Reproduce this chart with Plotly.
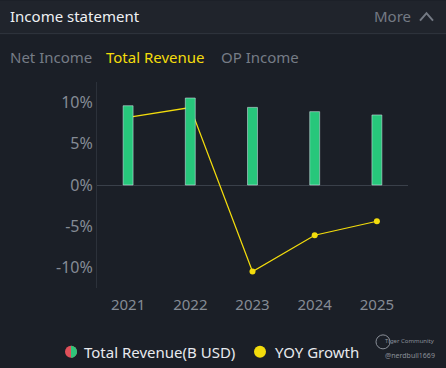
import math
import plotly.graph_objects as go

years = ["2021", "2022", "2023", "2024", "2025"]
revenue_busd = [9.62, 10.56, 9.42, 8.90, 8.50]
yoy_growth = [8.2, 9.4, -10.5, -6.1, -4.4]
y_tick_vals = [-10, -5, 0, 5, 10]
y_tick_text = ["-10%", "-5%", "0%", "5%", "10%"]

BG = "#1b1f27"
HEADER = "#20242c"
GREEN = "#27c77b"
YELLOW = "#f3dc0c"
GREY = "#858b95"
FONT = "Noto Sans"

W, H = 446, 368
L, R, T, B = 97, 408, 81.5, 288

fig = go.Figure()
fig.add_trace(go.Bar(x=years, y=revenue_busd, marker_color=GREEN, width=0.16,
                     yaxis="y2", name="Total Revenue(B USD)", showlegend=False))
fig.add_trace(go.Scatter(x=years, y=yoy_growth, mode="lines+markers",
                         line=dict(color=YELLOW, width=1.2),
                         marker=dict(color=YELLOW, size=6),
                         name="YOY Growth", showlegend=False))

rng = [-12.5, 12.5]
fig.update_layout(
    width=W, height=H,
    paper_bgcolor=BG, plot_bgcolor=BG,
    margin=dict(l=L, r=W - R, t=T, b=H - B),
    font=dict(family=FONT, color=GREY),
    xaxis=dict(showgrid=False, zeroline=False, showline=False,
               tickfont=dict(size=15, color=GREY), ticks="", ticklen=0,
               ticklabelstandoff=6),
    yaxis=dict(range=rng, tickvals=y_tick_vals, ticktext=y_tick_text,
               showgrid=False, zeroline=True, zerolinecolor="#3a404a", zerolinewidth=1,
               showline=True, linecolor="#2c313a", linewidth=1,
               tickfont=dict(size=16, color=GREY), ticks="", ticklen=0),
    yaxis2=dict(range=rng, overlaying="y", visible=False),
    showlegend=False,
    shapes=[
        dict(type="rect", xref="paper", yref="paper", x0=-L / (R - L), x1=(W - L) / (R - L),
             y0=1 + (T - 33) / (B - T), y1=1 + T / (B - T),
             fillcolor=HEADER, line_width=0, layer="below"),
        dict(type="line", xref="paper", yref="paper", x0=-L / (R - L), x1=(W - L) / (R - L),
             y0=1 + (T - 33) / (B - T), y1=1 + (T - 33) / (B - T),
             line=dict(color="#30353e", width=1)),
    ],
)

def px(xp):
    return (xp - L) / (R - L)

def py(yp):
    return (B - yp) / (B - T)

ann = []
ann.append(dict(text="Income statement", x=px(8), y=py(15), xanchor="left", yanchor="middle",
                font=dict(size=15, color="#eef0f3")))
ann.append(dict(text="More", x=px(413), y=py(15), xanchor="right", yanchor="middle",
                font=dict(size=15, color="#747a84")))
ann.append(dict(text="Net Income", x=px(8), y=py(56), xanchor="left", yanchor="middle",
                font=dict(size=15, color="#767c86")))
ann.append(dict(text="Total Revenue", x=px(104), y=py(56), xanchor="left", yanchor="middle",
                font=dict(size=15, color=YELLOW)))
ann.append(dict(text="OP Income", x=px(219), y=py(56), xanchor="left", yanchor="middle",
                font=dict(size=15, color="#767c86")))
ann.append(dict(text="Total Revenue(B USD)", x=px(82), y=py(352), xanchor="left", yanchor="middle",
                font=dict(size=15, color="#e8eaee")))
ann.append(dict(text="YOY Growth", x=px(273), y=py(352), xanchor="left", yanchor="middle",
                font=dict(size=15, color="#e8eaee")))
ann.append(dict(text="Tiger Community", x=px(437), y=py(341), xanchor="right", yanchor="middle",
                font=dict(size=6, color="#8a8f98")))
ann.append(dict(text="@nerdbull1669", x=px(437), y=py(356), xanchor="right", yanchor="middle",
                font=dict(size=7, color="#8a8f98")))
for a in ann:
    a.update(xref="paper", yref="paper", showarrow=False)
fig.update_layout(annotations=ann)

# "More" chevron
fig.add_shape(type="path", xref="paper", yref="paper",
              path="M {} {} L {} {} L {} {}".format(px(420), py(20), px(426.5), py(12.5), px(433), py(20)),
              line=dict(color="#747a84", width=2))

# legend dots
r = 6
cx, cy = 71, 352
fig.add_shape(type="circle", xref="paper", yref="paper",
              x0=px(cx - r), x1=px(cx + r), y0=py(cy + r), y1=py(cy - r),
              fillcolor="#e0505a", line_width=0)
fig.add_shape(type="path", xref="paper", yref="paper",
              path=" ".join(
                  ["M {} {}".format(px(cx), py(cy - r))] +
                  ["L {} {}".format(px(cx + r * math.sin(t * math.pi / 12)),
                                    py(cy - r * math.cos(t * math.pi / 12))) for t in range(1, 13)] +
                  ["Z"]),
              fillcolor="#2fc57a", line_width=0)
cx2 = 260
fig.add_shape(type="circle", xref="paper", yref="paper",
              x0=px(cx2 - r), x1=px(cx2 + r), y0=py(cy + r), y1=py(cy - r),
              fillcolor=YELLOW, line_width=0)
fig.add_shape(type="circle", xref="paper", yref="paper",
              x0=px(376), x1=px(390), y0=py(349), y1=py(335),
              line=dict(color="#8a8f98", width=1))

fig.write_html("out.html", config={"displayModeBar": False})
with open("out.html", "r", encoding="utf-8") as f:
    html = f.read()
html = html.replace("<head>", "<head><style>html,body{margin:0;padding:0;overflow:hidden;background:#1b1f27;}</style>", 1)
with open("out.html", "w", encoding="utf-8") as f:
    f.write(html)
